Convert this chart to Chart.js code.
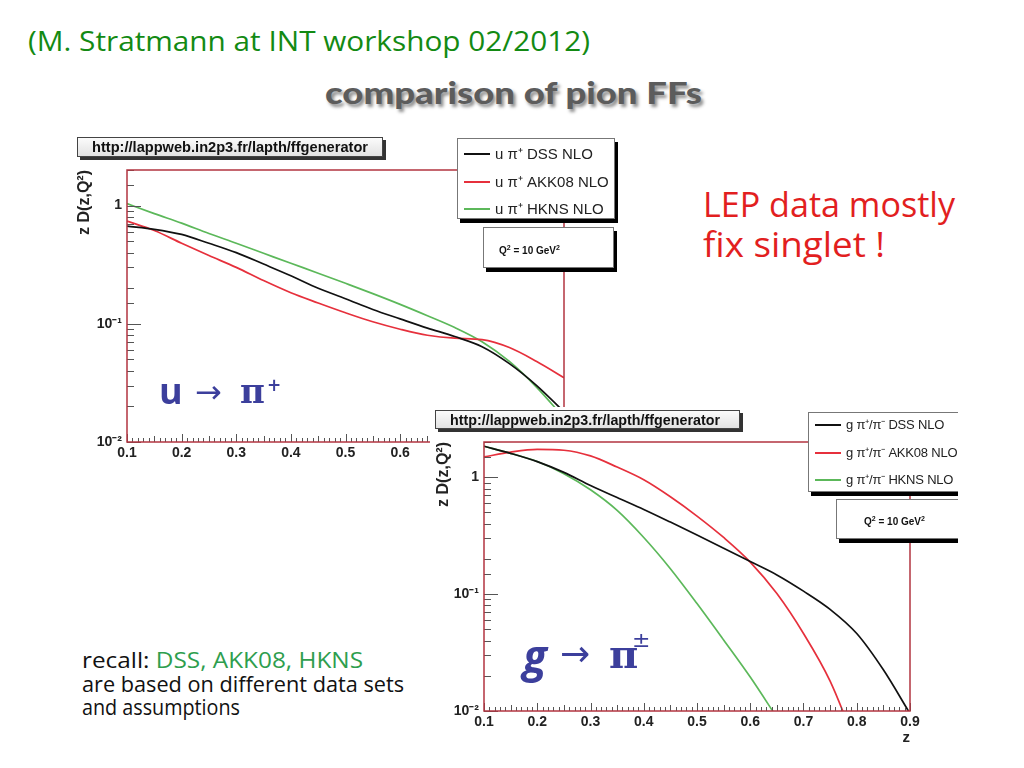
<!DOCTYPE html>
<html><head><meta charset="utf-8">
<script src="https://cdn.jsdelivr.net/npm/chart.js@4.4.1/dist/chart.umd.min.js"></script>
<style>
html,body{margin:0;padding:0;background:#fff;width:1024px;height:768px;overflow:hidden;position:relative;font-family:"Liberation Sans",Arial,sans-serif;}
.abs{position:absolute;white-space:nowrap;line-height:1;}
.slide{font-family:"Open Sans","Noto Sans",sans-serif;}
#topWrap{position:absolute;left:60px;top:130px;width:520px;height:340px;}
#botWrap{position:absolute;left:430px;top:407px;width:528px;height:343px;overflow:hidden;background:#fff;}
.url{position:absolute;background:linear-gradient(#fbfbfb,#e2e2e2);border:1px solid #444;box-shadow:3px 3px 0 #333;font:bold 14px "Liberation Sans",Arial,sans-serif;color:#111;line-height:18px;box-sizing:border-box;white-space:nowrap;}
.url span{position:absolute;left:14px;top:0;}
.leg{position:absolute;background:#fff;border:1px solid #777;box-shadow:3px 4px 0 #000;box-sizing:border-box;}
.legrow{position:absolute;left:6px;height:16px;font:15px "Liberation Sans",Arial,sans-serif;color:#222;white-space:nowrap;line-height:16px;}
#botLeg .legrow{font-size:13px;letter-spacing:-0.2px;}
.sw{display:inline-block;width:26px;height:2px;vertical-align:middle;margin-right:5px;position:relative;top:-1px;letter-spacing:0;}
.q2{position:absolute;background:#fff;border:1px solid #777;box-shadow:3px 4px 0 #000;box-sizing:border-box;font:bold 10px "Liberation Sans",Arial,sans-serif;color:#111;}
.q2 span{position:absolute;top:0;}
.q2 sup{font-size:7px;}
.blue{color:#3c3f9c;}
</style></head>
<body>
<div class="abs slide" data-w="562" style="left:28px;top:27px;font-size:27px;color:#138a13;">(M. Stratmann at INT workshop 02/2012)</div>
<div class="abs" data-w="377" style="left:325px;top:77px;font-size:30px;font-weight:900;font-family:Lato,'Open Sans',sans-serif;color:#5c5c5c;text-shadow:2px 3px 3px rgba(0,0,0,0.45);">comparison of pion FFs</div>
<div class="abs slide" data-w="252" style="left:703px;top:187px;font-size:34px;color:#e21f1f;">LEP data mostly</div>
<div class="abs slide" data-w="182" style="left:703px;top:227px;font-size:34px;color:#e21f1f;">fix singlet !</div>

<div id="topWrap"><canvas id="topChart" width="520" height="340"></canvas></div>
<div class="url" style="left:77px;top:137px;width:306px;height:20px;"><span data-w="276">http://lappweb.in2p3.fr/lapth/ffgenerator</span></div>
<div class="leg" id="topLeg" style="left:457px;top:138px;width:158px;height:81px;"></div>
<div class="q2" style="left:483px;top:227px;width:131px;height:41px;line-height:39px;"><span style="left:15px;">Q<sup>2</sup> = 10 GeV<sup>2</sup></span></div>

<div class="abs slide blue" style="left:159px;top:373px;font-size:36px;font-weight:bold;">u</div>
<div class="abs blue" style="left:195px;top:376px;font-size:32px;font-family:'DejaVu Sans',sans-serif;">→</div>
<div class="abs blue" style="left:240px;top:374px;font-size:34px;font-weight:bold;font-family:'DejaVu Serif',serif;">π</div>
<div class="abs blue" style="left:267px;top:377px;font-size:17px;font-weight:bold;font-family:'DejaVu Sans',sans-serif;">+</div>

<div id="botWrap">
  <canvas id="botChart" width="530" height="343"></canvas>
  <div class="url" style="left:5px;top:3px;width:305px;height:19px;"><span data-w="270">http://lappweb.in2p3.fr/lapth/ffgenerator</span></div>
  <div class="leg" id="botLeg" style="left:378px;top:5px;width:165px;height:80px;"></div>
  <div class="q2" style="left:406px;top:92px;width:135px;height:40px;line-height:38px;"><span style="left:27px;">Q<sup>2</sup> = 10 GeV<sup>2</sup></span></div>
  <div class="abs slide blue" style="left:93px;top:226px;font-size:44px;font-weight:bold;font-style:italic;">g</div>
  <div class="abs blue" style="left:130px;top:229px;font-size:36px;font-family:'DejaVu Sans',sans-serif;">→</div>
  <div class="abs blue" style="left:179px;top:227px;font-size:40px;font-weight:bold;font-family:'DejaVu Serif',serif;">π</div>
  <div class="abs blue" style="left:202px;top:222px;font-size:22px;font-family:'DejaVu Sans',sans-serif;">±</div>
</div>

<div class="abs slide" data-w="281" style="left:82px;top:648px;font-size:21px;line-height:24px;color:#111;">recall: <span style="color:#2e9e4e;">DSS, AKK08, HKNS</span></div>
<div class="abs slide" data-w="322" style="left:82px;top:672px;font-size:21px;line-height:24px;color:#111;">are based on different data sets</div>
<div class="abs slide" data-w="158" style="left:82px;top:695px;font-size:21px;line-height:24px;color:#111;">and assumptions</div>

<script>
// ---------- data ----------
const zGrid = [0.1,0.15,0.2,0.25,0.3,0.35,0.4,0.45,0.5,0.55,0.6,0.65,0.7,0.75,0.8,0.85,0.9];

const topLabels = ['u \u03c0\u207a DSS NLO','u \u03c0\u207a AKK08 NLO','u \u03c0\u207a HKNS NLO'];
const uDSS  = [0.67,0.63,0.57,0.48,0.40,0.32,0.255,0.20,0.163,0.132,0.110,0.092,0.078,0.064,0.046,0.030,0.018];
const uAKK  = [0.74,0.615,0.48,0.378,0.30,0.232,0.183,0.150,0.124,0.104,0.090,0.080,0.0755,0.0735,0.063,0.048,0.035];
const uHKNS = [1.04,0.855,0.71,0.58,0.48,0.395,0.325,0.268,0.22,0.18,0.146,0.117,0.093,0.0705,0.048,0.029,0.016];

const botLabels = ['g \u03c0\u207a/\u03c0\u207b DSS NLO','g \u03c0\u207a/\u03c0\u207b AKK08 NLO','g \u03c0\u207a/\u03c0\u207b HKNS NLO'];
const gDSS  = [1.84,1.60,1.36,1.10,0.85,0.67,0.53,0.413,0.32,0.247,0.19,0.146,0.106,0.074,0.046,0.0225,0.0095];
const gAKK  = [1.49,1.64,1.73,1.70,1.52,1.22,0.95,0.68,0.465,0.305,0.188,0.101,0.046,0.018,0.005,null,null];
const gHKNS = [1.84,1.60,1.36,1.07,0.78,0.52,0.305,0.165,0.083,0.0405,0.0195,0.0088,null,null,null,null,null];

const xTickText = ['0.1','0.2','0.3','0.4','0.5','0.6','0.7','0.8','0.9'];
const yTickValues = [0.01,0.1,1];
const yTickText = ['10\u207b\u00b2','10\u207b\u00b9','1'];
const seriesColors = ['#111111','#e6303c','#5cb85a'];

// ---------- helpers ----------
function pts(vals){ return zGrid.map((z,i)=>({x:z,y:vals[i]})).filter(p=>p.y!==null); }

const rootAxes = {
  id:'rootAxes',
  afterDatasetsDraw(chart){
    const {ctx, chartArea:a, scales:{x,y}} = chart;
    ctx.save();
    ctx.strokeStyle = '#555'; ctx.lineWidth = 1;
    ctx.beginPath();
    y.ticks.forEach(t=>{
      const v=t.value; if(v<y.min-1e-12||v>y.max+1e-12) return;
      const py=Math.round(y.getPixelForValue(v))+0.5;
      const lg=Math.log10(v); const major=Math.abs(lg-Math.round(lg))<1e-6;
      ctx.moveTo(a.left,py); ctx.lineTo(a.left+(major?14:7),py);
    });
    const n = Math.round((x.max-x.min)/0.01);
    for(let i=0;i<=n;i++){
      const v=x.min+i*0.01; const px=Math.round(x.getPixelForValue(v))+0.5;
      const len = (i%10===0)?8:((i%5===0)?6:4);
      ctx.moveTo(px,a.bottom); ctx.lineTo(px,a.bottom-len);
    }
    ctx.stroke();
    ctx.strokeStyle='#b23440'; ctx.lineWidth=1.5;
    ctx.strokeRect(a.left,a.top,a.right-a.left,a.bottom-a.top);
    ctx.restore();
  }
};

function makeChart(id, labels, series, cfg){
  const datasets = series.map((s,i)=>({
    label: labels[i], data: pts(s), borderColor: seriesColors[i], backgroundColor: seriesColors[i],
    borderWidth: 1.7, pointRadius: 0, cubicInterpolationMode:'monotone', fill:false
  }));
  const tickFont = {family:'"Liberation Sans", Arial, sans-serif', weight:'bold', size:14};
  return new Chart(document.getElementById(id), {
    type:'line',
    data:{datasets},
    plugins:[rootAxes],
    options:{
      responsive:false, animation:false, devicePixelRatio: 1,
      layout:{padding:cfg.padding},
      plugins:{legend:{display:false}, tooltip:{enabled:false}},
      scales:{
        x:{type:'linear', min:0.1, max:0.9,
           grid:{display:false, drawTicks:false, tickLength:0}, border:{display:false},
           ticks:{stepSize:0.1, padding:3, color:'#222', font:tickFont, maxRotation:0, autoSkip:false,
                  callback:(v)=>{const i=Math.round((v-0.1)/0.1); return (Math.abs(v-(0.1+i*0.1))<1e-6)?xTickText[i]:'';}},
           title:{display:cfg.xTitle, text:'z', align:'end', color:'#222', font:{family:'"Liberation Sans", Arial, sans-serif', weight:'bold', size:15}, padding:{top:0,bottom:3}},
           afterFit:(s)=>{s.height=cfg.xH;}},
        y:{type:'logarithmic', min:0.01, max:2,
           grid:{display:false, drawTicks:false, tickLength:0}, border:{display:false},
           ticks:{autoSkip:false, padding:5, color:'#222', font:tickFont,
                  callback:(v)=>{const i=yTickValues.findIndex(t=>Math.abs(t-v)/t<1e-6); return i>=0?yTickText[i]:'';}},
           title:{display:true, text:'z D(z,Q\u00b2)', align:'end', color:'#222', font:{family:'"Liberation Sans", Arial, sans-serif', weight:'bold', size:16}, padding:{top:2,bottom:0}},
           afterFit:(s)=>{s.width=cfg.yW;}}
      }
    }
  });
}

function buildLegend(elId, chart, tops){
  const box=document.getElementById(elId);
  chart.data.datasets.forEach((ds,i)=>{
    const row=document.createElement('div'); row.className='legrow'; row.style.top=tops[i]+'px';
    const sw=document.createElement('span'); sw.className='sw'; sw.style.background=ds.borderColor;
    row.appendChild(sw); row.appendChild(document.createTextNode(ds.label));
    box.appendChild(row);
  });
}

const topChart = makeChart('topChart', topLabels, [uDSS,uAKK,uHKNS], {padding:{left:13,top:40,right:16,bottom:0}, yW:54, xH:28, xTitle:false});
const botChart = makeChart('botChart', botLabels, [gDSS,gAKK,gHKNS], {padding:{left:2,top:35,right:50,bottom:0}, yW:52, xH:39, xTitle:true});
buildLegend('topLeg', topChart, [7,35,62]);
buildLegend('botLeg', botChart, [4,32,59]);

function fit(){
  document.querySelectorAll('[data-w]').forEach(el=>{
    if(el.tagName==='SPAN') el.style.display='inline-block';
    el.style.transform='none';
    const w=el.getBoundingClientRect().width;
    const s=parseFloat(el.dataset.w)/w;
    el.style.transformOrigin='0 0';
    el.style.transform='scaleX('+s+')';
  });
}
fit();
if(document.fonts&&document.fonts.ready){document.fonts.ready.then(fit);}
</script>
</body></html>
